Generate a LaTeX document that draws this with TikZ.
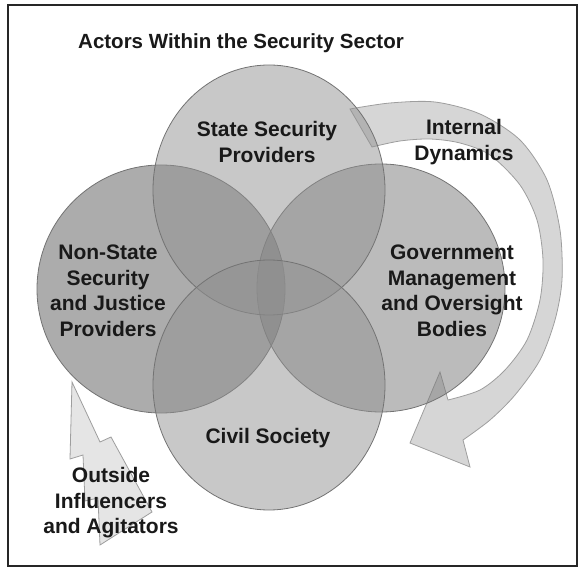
\documentclass[tikz,border=0pt]{standalone}
\usepackage{fontspec}
\setmainfont{Liberation Sans}
\begin{document}
\begin{tikzpicture}[x=1pt,y=-1pt,
  lbl/.style={font=\bfseries\fontsize{21}{25.5}\selectfont, align=center, text=black!90, inner sep=0pt},
  ring/.style={draw=black!55, line width=0.8pt, fill opacity=0.5},
  shapeline/.style={draw=black!38, line width=0.8pt, fill=black!16}]
\useasboundingbox (0,0) rectangle (584,569);
\draw[line width=2pt, black!85] (8,5) rectangle (577,566);

% internal dynamics arrow
\path[shapeline]
  plot[smooth] coordinates {(350,109) (390,103) (435,102) (480,114) (520,140) (547,180) (560,230) (562,280) (555,320) (540,360) (515,395) (490,420) (463,440)}
  -- (470,467) -- (410,443) -- (440,372) -- (448,400)
  -- plot[smooth] coordinates {(448,400) (480,390) (505,370) (527,340) (540,300) (543,260) (537,220) (520,185) (490,155) (460,143) (430,139) (400,141) (372,147)}
  -- cycle;

% outside influencers bolt
\path[shapeline, fill=black!10]
  (72,382) -- (100,442) -- (111,437) -- (152,512) -- (100,545) -- (98,498) -- (85,501) -- (83,455) -- (70,459) -- cycle;

% circles
\path[ring, fill=black!65] (161,289) circle[radius=124];
\path[ring, fill=black!53] (381,288) circle[radius=124];
\path[ring, fill=black!43] (269,190) ellipse[x radius=116, y radius=125];
\path[ring, fill=black!43] (269,385) ellipse[x radius=116, y radius=125];

% texts
\node[lbl, font=\bfseries\fontsize{20.5}{24}\selectfont, anchor=base] (title) at (241,49) {Actors Within the Security Sector};
\node[lbl] (state) at (267,142) {State Security\\Providers};
\node[lbl] (nonstate) at (108,291) {Non-State\\Security\\and Justice\\Providers};
\node[lbl] (gov) at (452,291) {Government\\Management\\and Oversight\\Bodies};
\node[lbl] (civil) at (268,438) {Civil Society};
\node[lbl] (internal) at (464,142) {Internal\\Dynamics};
\node[lbl] (outside) at (111,503) {Outside\\Influencers\\and Agitators};
\end{tikzpicture}
\end{document}
